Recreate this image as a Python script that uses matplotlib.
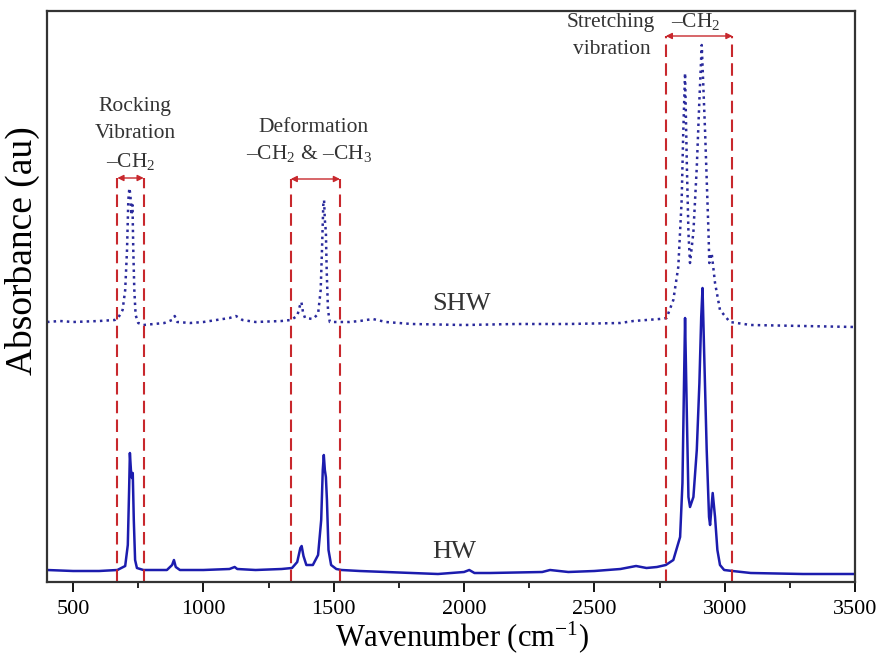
import numpy as np
import matplotlib
matplotlib.use('Agg')
import matplotlib.pyplot as plt
from matplotlib.ticker import MultipleLocator

plt.rcParams['font.family'] = ['Liberation Serif', 'DejaVu Serif']
plt.rcParams['mathtext.fontset'] = 'custom'
plt.rcParams['mathtext.rm'] = 'Liberation Serif'
plt.rcParams['mathtext.it'] = 'Liberation Serif:italic'
plt.rcParams['mathtext.bf'] = 'Liberation Serif:bold'

# HW spectrum (solid)
hw_wn = [400, 500, 600, 670, 700, 710, 715, 718, 722, 726, 729, 733, 738, 745, 770,
         860, 880, 887, 894, 910, 1000, 1100, 1120, 1130, 1200, 1300, 1340, 1360, 1372,
         1377, 1384, 1395, 1420, 1440, 1452, 1458, 1462, 1466, 1470, 1474, 1480, 1490,
         1510, 1530, 1600, 1800, 1900, 2000, 2020, 2040, 2100, 2300, 2330, 2400, 2500,
         2600, 2640, 2660, 2700, 2740, 2774, 2803, 2829, 2838, 2844, 2848, 2855, 2861,
         2867, 2880, 2893, 2903, 2910, 2915, 2921, 2931, 2940, 2944, 2954, 2963, 2972,
         2982, 2998, 3030, 3100, 3300, 3500]
hw_abs = [0.12, 0.11, 0.11, 0.12, 0.16, 0.37, 0.92, 1.29, 1.12, 1.04, 1.09, 0.62, 0.22, 0.14, 0.12,
          0.12, 0.17, 0.22, 0.15, 0.12, 0.12, 0.13, 0.15, 0.13, 0.12, 0.13, 0.14, 0.20, 0.34,
          0.36, 0.26, 0.17, 0.17, 0.27, 0.62, 1.12, 1.27, 1.12, 1.05, 0.82, 0.32, 0.17,
          0.13, 0.12, 0.11, 0.09, 0.08, 0.10, 0.12, 0.09, 0.09, 0.10, 0.12, 0.10, 0.11,
          0.13, 0.15, 0.16, 0.14, 0.15, 0.17, 0.22, 0.45, 0.99, 1.99, 2.64, 1.65, 0.85,
          0.75, 0.85, 1.32, 1.99, 2.65, 2.94, 2.32, 1.32, 0.65, 0.57, 0.89, 0.65, 0.32,
          0.17, 0.12, 0.11, 0.09, 0.08, 0.08]

# SHW spectrum (dotted)
shw_wn = [400, 450, 500, 600, 660, 675, 690, 700, 707, 712, 716, 720, 724, 728, 731, 735,
          740, 750, 770, 850, 880, 890, 900, 950, 1000, 1050, 1100, 1125, 1150, 1200, 1300,
          1335, 1360, 1370, 1376, 1382, 1390, 1420, 1440, 1450, 1455, 1460, 1463, 1466,
          1470, 1473, 1478, 1485, 1520, 1560, 1600, 1650, 1700, 1800, 2000, 2200, 2400,
          2600, 2650, 2700, 2750, 2777, 2803, 2822, 2835, 2841, 2848, 2855, 2861, 2867,
          2880, 2893, 2903, 2912, 2925, 2938, 2941, 2950, 2963, 2982, 3020, 3100, 3300, 3500]
shw_abs = [2.60, 2.61, 2.60, 2.61, 2.62, 2.65, 2.72, 2.92, 3.32, 3.82, 3.94, 3.87, 3.67, 3.77, 3.32, 2.92,
           2.67, 2.59, 2.57, 2.59, 2.62, 2.66, 2.60, 2.59, 2.60, 2.62, 2.64, 2.66, 2.62, 2.60, 2.61,
           2.62, 2.66, 2.76, 2.80, 2.70, 2.64, 2.63, 2.68, 2.92, 3.32, 3.77, 3.82, 3.62,
           3.50, 3.12, 2.72, 2.60, 2.60, 2.60, 2.61, 2.63, 2.60, 2.58, 2.57, 2.58, 2.58,
           2.59, 2.61, 2.62, 2.63, 2.64, 2.82, 3.15, 3.82, 4.49, 5.09, 4.15, 3.49, 3.19,
           3.50, 4.15, 4.82, 5.37, 4.49, 3.49, 3.19, 3.29, 2.99, 2.72, 2.60, 2.57, 2.56, 2.55]

# band regions (wavenumber)
band_edges = [(670, 771), (1335, 1524), (2774, 3030)]
band_arrow_y = [4.04, 4.03, 5.46]

red = '#c8282d'
txt = '#333333'
fs = 15.5

fig = plt.figure(figsize=(8.82, 6.57), dpi=100)
ax = fig.add_axes([47/882, 75/657, 808/882, 571/657])

ax.plot(hw_wn, hw_abs, color='#1c1cae', lw=1.8)
ax.plot(shw_wn, shw_abs, color='#2a2a9c', lw=1.8, linestyle=':')

for (x1, x2), ya in zip(band_edges, band_arrow_y):
    ax.vlines([x1, x2], 0, ya, colors=red, linestyles=(0, (6, 3)), lw=1.5)
    ax.annotate('', xy=(x2, ya), xytext=(x1, ya),
                arrowprops=dict(arrowstyle='<|-|>', color=red, lw=1.0,
                                mutation_scale=9, shrinkA=0, shrinkB=0))

ax.text(737, 4.76, 'Rocking', ha='center', va='center', fontsize=fs, color=txt)
ax.text(737, 4.49, 'Vibration', ha='center', va='center', fontsize=fs, color=txt)
ax.text(722, 4.21, '–CH$_2$', ha='center', va='center', fontsize=fs, color=txt)
ax.text(1422, 4.55, 'Deformation', ha='center', va='center', fontsize=fs, color=txt)
ax.text(1405, 4.29, '–CH$_2$ & –CH$_3$', ha='center', va='center', fontsize=fs, color=txt)
ax.text(2562, 5.60, 'Stretching', ha='center', va='center', fontsize=fs, color=txt)
ax.text(2568, 5.32, 'vibration', ha='center', va='center', fontsize=fs, color=txt)
ax.text(2890, 5.60, '–CH$_2$', ha='center', va='center', fontsize=fs, color=txt)

ax.text(1992, 2.78, 'SHW', ha='center', va='center', fontsize=19, color=txt)
ax.text(1962, 0.30, 'HW', ha='center', va='center', fontsize=19, color=txt)

ax.set_xlim(400, 3500)
ax.set_ylim(0, 5.71)
ax.xaxis.set_major_locator(MultipleLocator(500))
ax.xaxis.set_minor_locator(MultipleLocator(250))
ax.tick_params(axis='x', which='major', direction='out', length=7, width=1.3, labelsize=16, pad=6)
ax.tick_params(axis='x', which='minor', direction='out', length=4, width=1.2)
ax.tick_params(axis='y', left=False, labelleft=False)
for s in ax.spines.values():
    s.set_linewidth(1.6)
    s.set_color('#333333')

ax.set_xlabel('Wavenumber (cm$^{-1}$)', fontsize=22)
ax.xaxis.set_label_coords(0.514, -0.066)
ax.set_ylabel('Absorbance (au)', fontsize=27)
ax.yaxis.set_label_coords(-0.009, 0.58)

fig.savefig('out.png', dpi=100)
